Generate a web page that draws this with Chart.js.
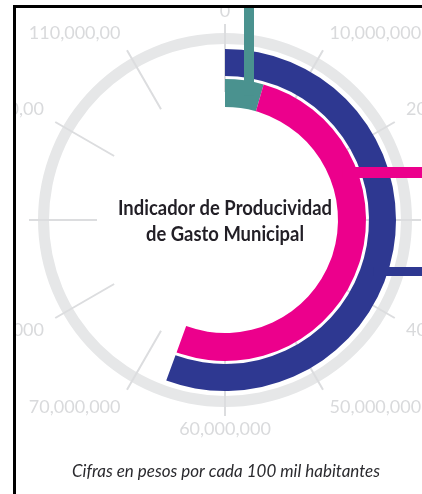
<!DOCTYPE html>
<html>
<head>
<meta charset="utf-8">
<script src="https://cdn.jsdelivr.net/npm/chart.js@4"></script>
<style>
    html, body { margin: 0; padding: 0; background: #fff; }
    canvas { display: block; }
</style>
</head>
<body>
<canvas id="myChart" width="422" height="494"></canvas>
<script>
// One full turn of the dial
const fullScale = 120000000;

// Tick values around the dial and the text printed next to them
const tickValues = [0, 10000000, 20000000, 30000000, 40000000, 50000000,
    60000000, 70000000, 80000000, 90000000, 100000000, 110000000];
const tickLabels = ['0', '10,000,000', '20,000,000', '30,000,000', '40,000,000', '50,000,000',
    '60,000,000', '70,000,000', '80,000,000', '90,000,000', '100,000,00', '110,000,00'];

// Series (pesos per 100 thousand inhabitants)
const seriesNames = ['Azul', 'Rosa', 'Verde'];
const seriesValues = [66700000, 66700000, 5300000];

// Colours
const navy = '#2e3891';
const pink = '#ec008c';
const teal = '#4a928f';
const track = '#e6e7e8';
const tickColor = '#dcdddf';

const titleLines = ['Indicador de Producividad', 'de Gasto Municipal'];
const footNote = 'Cifras en pesos por cada 100 mil habitantes';

// angle on the dial for a value, 0 at the top, clockwise
function dialAngle(value) {
    return value / fullScale * Math.PI * 2;
}

// draws the ticks, labels, leader bars, texts and frame
const dialPlugin = {
    id: 'dial',
    afterDatasetDraw(chart, args) {
        // ticks go over the grey track but under the coloured arcs
        if (args.index !== 0) return;
        const arc = chart.getDatasetMeta(0).data[0];
        const ctx = chart.ctx;
        ctx.save();
        ctx.strokeStyle = tickColor;
        ctx.lineWidth = 2;
        for (let v of tickValues) {
            const a = dialAngle(v);
            ctx.beginPath();
            ctx.moveTo(arc.x + 128 * Math.sin(a), arc.y - 128 * Math.cos(a));
            ctx.lineTo(arc.x + 196 * Math.sin(a), arc.y - 196 * Math.cos(a));
            ctx.stroke();
        }
        ctx.restore();
    },
    afterDatasetsDraw(chart) {
        const ctx = chart.ctx;
        const navyArc = chart.getDatasetMeta(2).data[0];
        const pinkArc = chart.getDatasetMeta(4).data[0];
        const cx = navyArc.x, cy = navyArc.y;
        const navyMid = (navyArc.innerRadius + navyArc.outerRadius) / 2;
        const pinkMid = (pinkArc.innerRadius + pinkArc.outerRadius) / 2;

        ctx.save();

        // leader bars
        ctx.fillStyle = teal;
        ctx.fillRect(cx + 19, 5, 10, cy - Math.sqrt(pinkMid * pinkMid - 24 * 24) - 5);
        ctx.fillStyle = pink;
        ctx.fillRect(cx + Math.sqrt(pinkMid * pinkMid - 48 * 48), cy - 53, 422, 11);
        ctx.fillStyle = navy;
        ctx.fillRect(cx + Math.sqrt(navyMid * navyMid - 52 * 52), cy + 47, 422, 9);

        // tick labels, clipped by the frame
        ctx.save();
        ctx.beginPath();
        ctx.rect(16, 8, 422, 494);
        ctx.clip();
        ctx.font = '18px Lato';
        ctx.fillStyle = '#d9dadc';
        ctx.textBaseline = 'middle';
        tickValues.forEach((v, i) => {
            const a = dialAngle(v);
            const s = Math.sin(a), c = Math.cos(a);
            ctx.textAlign = s > 0.05 ? 'left' : (s < -0.05 ? 'right' : 'center');
            ctx.fillText(tickLabels[i], cx + 209 * s, cy - 209 * c - 14 * c * Math.abs(s));
        });
        ctx.restore();

        // title in the middle
        ctx.fillStyle = '#221f26';
        ctx.textAlign = 'center';
        ctx.textBaseline = 'alphabetic';
        ctx.font = 'bold 20px Lato';
        ctx.fillText(titleLines[0], cx, cy - 5, 214);
        ctx.fillText(titleLines[1], cx, cy + 21, 158);

        // foot note
        ctx.fillStyle = '#2a2a2e';
        ctx.font = 'italic 17px Lato';
        ctx.fillText(footNote, cx + 1, 477, 308);

        // frame
        ctx.fillStyle = '#000';
        ctx.fillRect(13, 5, 422, 3);
        ctx.fillRect(13, 5, 3, 494);

        ctx.restore();
    }
};

// the ring of the pink series also carries the small teal value on top of it
const pinkRing = [seriesValues[2], seriesValues[1] - seriesValues[2], fullScale - seriesValues[1]];

new Chart(document.getElementById('myChart'), {
    type: 'doughnut',
    data: {
        labels: ['a', 'b', 'c'],
        datasets: [
            // grey track
            { data: [fullScale], backgroundColor: [track], weight: 11, order: 1 },
            // white gap
            { data: [fullScale], backgroundColor: ['rgba(0,0,0,0)'], weight: 5 },
            { label: seriesNames[0], data: [seriesValues[0], fullScale - seriesValues[0]], backgroundColor: [navy, 'rgba(0,0,0,0)'], weight: 27 },
            { data: [fullScale], backgroundColor: ['rgba(0,0,0,0)'], weight: 3 },
            { label: seriesNames[1], data: pinkRing, backgroundColor: [teal, pink, 'rgba(0,0,0,0)'], weight: 28 }
        ]
    },
    options: {
        responsive: false,
        animation: false,
        events: [],
        cutout: 113,
        layout: { padding: { left: 38, top: 33, right: 10, bottom: 87 } },
        elements: { arc: { borderWidth: 0 } },
        plugins: {
            legend: { display: false },
            tooltip: { enabled: false }
        }
    },
    plugins: [dialPlugin]
});
</script>
</body>
</html>
